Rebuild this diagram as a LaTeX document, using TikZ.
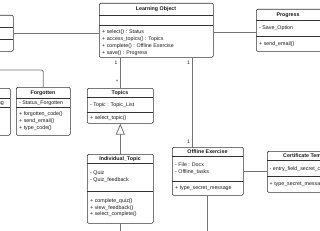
\documentclass[tikz,border=0pt]{standalone}
\usepackage{fontspec}
\setmainfont{Liberation Sans}
\usetikzlibrary{arrows.meta}
\begin{document}
\begin{tikzpicture}[x=1pt,y=-1pt,
  cls/.style={draw=black!80, line width=0.6pt, rounded corners=1.3pt, fill=white, inner sep=0pt, anchor=north west},
  sepline/.style={draw=black!80, line width=0.6pt},
  conn/.style={draw=black!55, line width=0.8pt},
  txt/.style={inner sep=0pt, font=\fontsize{5.3}{6.5}\selectfont, anchor=base west, text=black!90},
  txtr/.style={txt, anchor=base east},
  ttl/.style={inner sep=0pt, font=\fontsize{5.3}{6.5}\selectfont\bfseries, anchor=base, text=black!90},
  mult/.style={inner sep=0pt, font=\fontsize{5}{6}\selectfont, text=black!90}]
\useasboundingbox (0,0) rectangle (320,230);
\clip (0,0) rectangle (320,230);

% ---------- boxes ----------
\node[cls, minimum width=33pt, minimum height=36pt] (la) at (-20,15) {};
\draw[sepline] (-20,27) -- (13,27) (-20,39) -- (13,39);

\node[cls, minimum width=114pt, minimum height=54pt] (lo) at (99,3) {};
\draw[sepline] (99,15) -- (213,15) (99,25) -- (213,25);
\node[ttl] (loT) at (156,10.9) {Learning Object};
\node[txt] (lo1) at (102,34.0) {+ select() : Status};
\node[txt] (lo2) at (102,40.7) {+ access\_topics() : Topics};
\node[txt] (lo3) at (102,47.4) {+ complete() : Offline Exercise};
\node[txt] (lo4) at (102,54.1) {+ save() : Progress};

\node[cls, minimum width=66pt, minimum height=42pt] (pg) at (256,9) {};
\draw[sepline] (256,20) -- (322,20) (256,36) -- (322,36);
\node[ttl] (pgT) at (288,16.4) {Progress};
\node[txt] (pg1) at (259,29.9) {- Save\_Option};
\node[txt] (pg2) at (259,45.2) {+ send\_email()};

\node[cls, minimum width=40pt, minimum height=47pt] (lb) at (-30,88) {};
\draw[sepline] (-30,98) -- (10,98) (-30,107) -- (10,107);
\node[txtr] (lb1) at (4,104.6) {- Status\_Remembering};

\node[cls, minimum width=54pt, minimum height=48pt] (fg) at (16,87) {};
\draw[sepline] (16,98) -- (70,98) (16,107) -- (70,107);
\node[ttl] (fgT) at (43,94.9) {Forgotten};
\node[txt] (fg1) at (19,104.4) {- Status\_Forgotten};
\node[txt] (fg2) at (19,115.6) {+ forgotten\_code()};
\node[txt] (fg3) at (19,122.3) {+ send\_email()};
\node[txt] (fg4) at (19,129.0) {+ type\_code()};

\node[cls, minimum width=66pt, minimum height=35pt] (tp) at (87,88) {};
\draw[sepline] (87,97) -- (153,97) (87,112) -- (153,112);
\node[ttl] (tpT) at (120,94.6) {Topics};
\node[txt] (tp1) at (90,106.3) {- Topic : Topic\_List};
\node[txt] (tp2) at (90,119.3) {+ select\_topic()};

\node[cls, minimum width=66pt, minimum height=69pt] (it) at (87,154) {};
\draw[sepline] (87,163) -- (153,163) (87,191) -- (153,191);
\node[ttl] (itT) at (120,160.4) {Individual\_Topic};
\node[txt] (it1) at (90,174.8) {- Quiz};
\node[txt] (it2) at (90,181.6) {- Quiz\_feedback};
\node[txt] (it3) at (90,202.4) {+ complete\_quiz()};
\node[txt] (it4) at (90,209.0) {+ view\_feedback()};
\node[txt] (it5) at (90,215.6) {+ select\_complete()};

\node[cls, minimum width=71pt, minimum height=48pt] (oe) at (172,147) {};
\draw[sepline] (172,156) -- (243,156) (172,181) -- (243,181);
\node[ttl] (oeT) at (207.5,153.4) {Offline Exercise};
\node[txt] (oe1) at (175,166.9) {- File : Docx};
\node[txt] (oe2) at (175,173.8) {- Offline\_tasks};
\node[txt] (oe3) at (175,189.9) {+ type\_secret\_message};

\node[cls, minimum width=90pt, minimum height=41pt] (ct) at (267,151) {};
\draw[sepline] (267,160) -- (357,160) (267,176) -- (357,176);
\node[ttl, anchor=base west] (ctT) at (283,157.4) {Certificate Template};
\node[txt] (ct1) at (269.5,170.9) {- entry\_field\_secret\_code};
\node[txt] (ct2) at (269.5,185.9) {+ type\_secret\_message()};

% ---------- connectors ----------
\draw[conn] (la.east) -- (la.east -| lo.west);
\coordinate (pgIn) at ([yshift=-23pt]pg.north west);
\draw[conn] (pgIn) -- (pgIn -| lo.east);
\coordinate (fgIn) at (-3,70);
\draw[conn, rounded corners=2pt] (fgIn) -| (fg.north);
\draw[conn] (tp.north) -- (tp.north |- lo.south);
\coordinate (oeTop) at ([xshift=20pt]oe.north west);
\draw[conn] (oeTop) -- (oeTop |- lo.south);
\draw[conn, -{Triangle[open, length=11pt, width=9pt]}] (it.north) -- (tp.south);
\coordinate (itOut) at ([yshift=-10pt]it.south);
\draw[conn] (it.south) -- (itOut);
\coordinate (oeOut) at ([yshift=-40pt]oe.south);
\draw[conn] (oe.south) -- (oeOut);
\draw[conn] (oe.east) -- (oe.east -| ct.west);

% ---------- multiplicities ----------
\node[mult] (m1) at (116,63) {1};
\node[mult] (m2) at (117,81.5) {*};
\node[mult] (m3) at (188.5,63) {1};
\node[mult] (m4) at (188.5,142) {1};
\end{tikzpicture}
\end{document}
